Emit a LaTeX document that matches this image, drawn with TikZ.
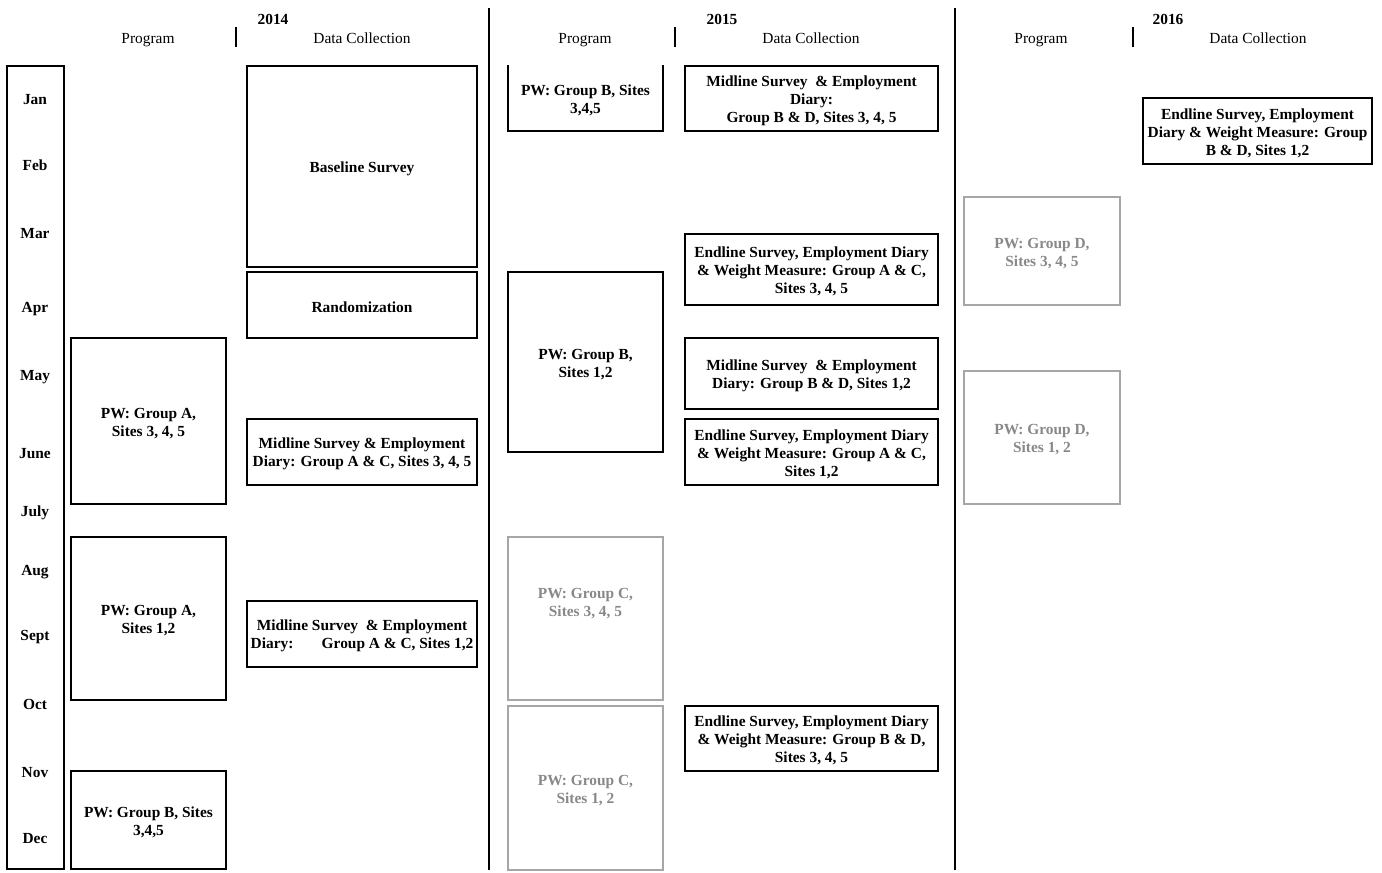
\documentclass[tikz,border=0pt]{standalone}
\usepackage{fontspec}
\setmainfont{Liberation Serif}
\definecolor{gline}{HTML}{A6A6A6}
\definecolor{gtext}{HTML}{888888}
\newcommand\tb[8]{\node[#2,minimum width={(#6-#4)*0.75pt},minimum height={(#7-#5)*0.75pt}] (#1) at ({(#4+#6)/2},{(#5+#7)/2}) {};
  \node[#3] (#1t) at ([yshift=-1.6pt]#1.center) {#8};}
\begin{document}
\begin{tikzpicture}[x=0.75pt,y=-0.75pt,
  txt/.style={font=\fontsize{11.55}{13.5}\selectfont,inner sep=0pt},
  hdr/.style={txt,anchor=base},
  yr/.style={txt,anchor=base,font=\fontsize{11.55}{13.5}\selectfont\bfseries},
  month/.style={txt,anchor=base,font=\fontsize{11.55}{13.5}\selectfont\bfseries},
  bx/.style={draw=black,line width=1.05pt,inner sep=0pt},
  gbx/.style={bx,draw=gline},
  gtx/.style={txt,align=center,text=gtext,font=\fontsize{11.55}{13.5}\selectfont\bfseries},
  btx/.style={txt,align=center,font=\fontsize{11.55}{13.5}\selectfont\bfseries},
  sep/.style={line width=1.1pt},
  yrsep/.style={line width=1.5pt},
  openline/.style={line width=1.05pt}]
\useasboundingbox (0,0) rectangle (1382,872);

% headers
\node[yr] (y14) at (273,24) {2014};
\node[hdr] (p14) at (148,43) {Program};
\node[hdr] (d14) at (362,43) {Data Collection};
\node[yr] (y15) at (722,24) {2015};
\node[hdr] (p15) at (585,43) {Program};
\node[hdr] (d15) at (811,43) {Data Collection};
\node[yr] (y16) at (1168,24) {2016};
\node[hdr] (p16) at (1041,43) {Program};
\node[hdr] (d16) at (1258,43) {Data Collection};

\draw[sep] (236,27) -- (236,47);
\draw[sep] (675,27) -- (675,47);
\draw[sep] (1133,27) -- (1133,47);

\draw[yrsep] (489,8) -- (489,870);
\draw[yrsep] (955,8) -- (955,870);

% months column
\node[draw=black,line width=1.5pt,minimum width={57*0.75pt},minimum height={803*0.75pt},inner sep=0pt] (months) at (35.5,467.5) {};
\node[month] (jan) at (35,104) {Jan};
\node[month] (feb) at (35,170) {Feb};
\node[month] (mar) at (35,238) {Mar};
\node[month] (apr) at (35,312) {Apr};
\node[month] (may) at (35,380) {May};
\node[month] (jun) at (35,458) {June};
\node[month] (jul) at (35,516) {July};
\node[month] (aug) at (35,575) {Aug};
\node[month] (sep) at (35,640) {Sept};
\node[month] (oct) at (35,709) {Oct};
\node[month] (nov) at (35,777) {Nov};
\node[month] (dec) at (35,843) {Dec};

% 2014 program
\tb{pa345}{bx}{btx}{71}{338}{226}{504}{PW: Group A,\\Sites 3, 4, 5}
\tb{pa12}{bx}{btx}{71}{537}{226}{700}{PW: Group A,\\Sites 1,2}
\tb{pb345}{bx}{btx}{71}{771}{226}{869}{PW: Group B, Sites\\3,4,5}

% 2014 data collection
\tb{base}{bx}{btx}{247}{66}{477}{267}{Baseline Survey}
\tb{rand}{bx}{btx}{247}{272}{477}{338}{Randomization}
\tb{mida345}{bx}{btx}{247}{419}{477}{485}{Midline Survey \& Employment\\Diary: Group A \& C, Sites 3, 4, 5}
\tb{mida12}{bx}{btx}{247}{601}{477}{667}{Midline Survey~ \& Employment\\\makebox[167pt]{Diary:\hfill Group A \& C, Sites 1,2}}

% 2015 program
\draw[openline] (508,65) -- (508,131) -- (663,131) -- (663,65);
\node[btx] (pb345b) at (585.5,100) {PW: Group B, Sites\\3,4,5};
\tb{pb12}{bx}{btx}{508}{272}{663}{452}{PW: Group B,\\Sites 1,2}
\node[gbx,minimum width={155*0.75pt},minimum height={163*0.75pt}] (pc345) at (585.5,618.5) {};
\node[gtx] (pc345t) at (585.5,603.5) {PW: Group C,\\Sites 3, 4, 5};
\tb{pc12}{gbx}{gtx}{508}{706}{663}{870}{PW: Group C,\\Sites 1, 2}

% 2015 data collection
\tb{midb345}{bx}{btx}{685}{66}{938}{131}{Midline Survey~ \& Employment\\Diary:\\Group B \& D, Sites 3, 4, 5}
\tb{endac345}{bx}{btx}{685}{234}{938}{305}{Endline Survey, Employment Diary\\\& Weight Measure: Group A \& C,\\Sites 3, 4, 5}
\tb{midb12}{bx}{btx}{685}{338}{938}{409}{Midline Survey~ \& Employment\\Diary: Group B \& D, Sites 1,2}
\tb{endac12}{bx}{btx}{685}{419}{938}{485}{Endline Survey, Employment Diary\\\& Weight Measure: Group A \& C,\\Sites 1,2}
\tb{endbd345}{bx}{btx}{685}{706}{938}{771}{Endline Survey, Employment Diary\\\& Weight Measure: Group B \& D,\\Sites 3, 4, 5}

% 2016 program
\tb{pd345}{gbx}{gtx}{964}{197}{1120}{305}{PW: Group D,\\Sites 3, 4, 5}
\tb{pd12}{gbx}{gtx}{964}{371}{1120}{504}{PW: Group D,\\Sites 1, 2}

% 2016 data collection
\tb{endbd12}{bx}{btx}{1143}{98}{1372}{164}{Endline Survey, Employment\\Diary \& Weight Measure: Group\\B \& D, Sites 1,2}
\end{tikzpicture}
\end{document}
